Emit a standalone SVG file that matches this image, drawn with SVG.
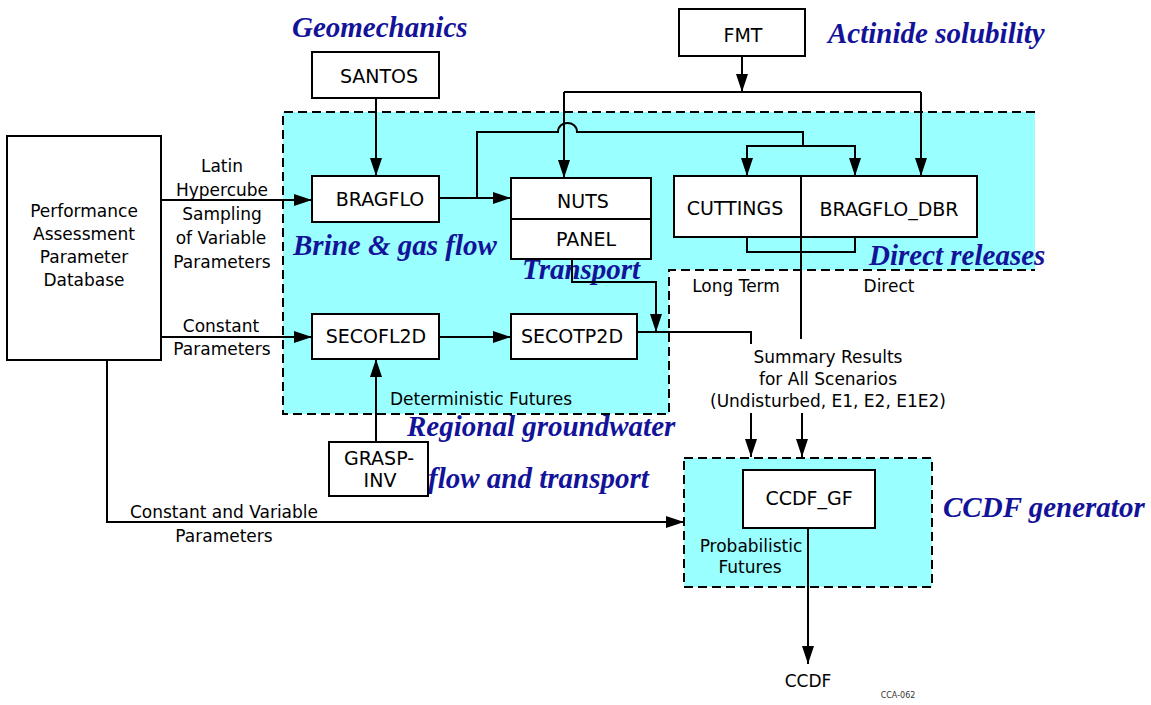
<svg xmlns="http://www.w3.org/2000/svg" width="1151" height="705" viewBox="0 0 1151 705">
<defs>
<marker id="ah" markerUnits="userSpaceOnUse" markerWidth="18" markerHeight="12" refX="18" refY="6" orient="auto">
<path d="M0,0 L18,6 L0,12 Z" fill="#000"/>
</marker>
<style>
.box{fill:#fff;stroke:#000;stroke-width:2}
.dash{fill:none;stroke:#000;stroke-width:2;stroke-dasharray:9,5}
.c{fill:none;stroke:#000;stroke-width:2}
.a{marker-end:url(#ah)}
.t{font-family:"DejaVu Sans",sans-serif;font-size:17px;fill:#000;text-anchor:middle}
.bt{font-family:"DejaVu Sans",sans-serif;font-size:19px;fill:#000;text-anchor:middle}
.lab{font-family:"Liberation Serif","Times New Roman",serif;font-size:29px;font-weight:bold;font-style:italic;fill:#13139a}
</style>
</defs>
<rect width="1151" height="705" fill="#fff"/>
<g id="regions">
<path d="M283,112 H1035 V270 H669 V414 H283 Z" fill="#99ffff"/>
<path class="dash" d="M1035,112 H283 V414 H669 V270 H1035"/>
<rect x="684" y="458" width="248" height="129" fill="#99ffff" class="dash" style="fill:#99ffff"/>
</g>
<g id="labels">
<text class="lab" x="292" y="37">Geomechanics</text>
<text class="lab" x="828" y="43">Actinide solubility</text>
<text class="lab" x="293" y="255">Brine &amp; gas flow</text>
<text class="lab" x="522" y="279">Transport</text>
<text class="lab" x="869" y="265">Direct releases</text>
<text class="lab" x="407" y="436">Regional groundwater</text>
<text class="lab" x="428" y="488">flow and transport</text>
<text class="lab" x="943" y="517">CCDF generator</text>
<text class="t" x="481" y="405">Deterministic Futures</text>
<text class="t" x="736" y="292">Long Term</text>
<text class="t" x="889" y="292">Direct</text>
<text class="t" x="828" y="363">Summary Results</text>
<text class="t" x="828" y="385">for All Scenarios</text>
<text class="t" x="828" y="407">(Undisturbed, E1, E2, E1E2)</text>
<text class="t" x="751" y="552">Probabilistic</text>
<text class="t" x="750" y="573">Futures</text>
<text class="t" x="808" y="687">CCDF</text>
<text x="898" y="698" style="font-family:'DejaVu Sans',sans-serif;font-size:8px;fill:#333;text-anchor:middle">CCA-062</text>
<text class="t" x="222" y="172">Latin</text>
<text class="t" x="222" y="196">Hypercube</text>
<text class="t" x="222" y="220">Sampling</text>
<text class="t" x="221" y="244">of Variable</text>
<text class="t" x="222" y="268">Parameters</text>
<text class="t" x="221" y="332">Constant</text>
<text class="t" x="222" y="355">Parameters</text>
<text class="t" x="224" y="518">Constant and Variable</text>
<text class="t" x="224" y="542">Parameters</text>
</g>
<g id="connectors">
<path class="c a" d="M161,200 H312"/>
<path class="c a" d="M161,337 H312"/>
<path class="c a" d="M376,98 V176"/>
<path class="c a" d="M439,198 H511"/>
<path class="c" d="M477,198 V132 H558 C558,120 577,120 577,132 H803 V146"/>
<path class="c a" d="M803,146 H747 V176"/>
<path class="c a" d="M803,146 H855 V176"/>
<path class="c a" d="M742,56 V92"/>
<path class="c" d="M564,92 H921"/>
<path class="c a" d="M564,92 V178"/>
<path class="c a" d="M921,92 V176"/>
<path class="c a" d="M572,259 V282 H656 V332"/>
<path class="c" d="M637,332 H751 V344"/>
<path class="c a" d="M439,337 H511"/>
<path class="c a" d="M376,442 V359"/>
<path class="c" d="M801,237 V339"/>
<path class="c" d="M747,237 V252 H855 V237"/>
<path class="c a" d="M751,413 V457"/>
<path class="c a" d="M802,413 V457"/>
<path class="c a" d="M107,360 V522 H684"/>
<path class="c a" d="M808,528 V664"/>
</g>
<g id="db"><rect class="box" x="7" y="136" width="154" height="224"/>
<text class="t" x="84" y="217">Performance</text><text class="t" x="84" y="240">Assessment</text><text class="t" x="84" y="263">Parameter</text><text class="t" x="84" y="286">Database</text></g>
<g id="santos"><rect class="box" x="312" y="52" width="127" height="46"/><text class="bt" x="379" y="83">SANTOS</text></g>
<g id="fmt"><rect class="box" x="679" y="9" width="126" height="47"/><text class="bt" x="743" y="42">FMT</text></g>
<g id="bragflo"><rect class="box" x="312" y="176" width="127" height="46"/><text class="bt" x="380" y="206">BRAGFLO</text></g>
<g id="nuts-panel"><rect class="box" x="511" y="178" width="140" height="81"/><path class="c" d="M511,219 H651"/>
<text class="bt" x="583" y="208">NUTS</text><text class="bt" x="586" y="246">PANEL</text></g>
<g id="secofl2d"><rect class="box" x="312" y="314" width="127" height="45"/><text class="bt" x="376" y="343">SECOFL2D</text></g>
<g id="secotp2d"><rect class="box" x="511" y="314" width="126" height="45"/><text class="bt" x="572" y="343">SECOTP2D</text></g>
<g id="cuttings-dbr"><rect class="box" x="674" y="176" width="303" height="61"/><path class="c" d="M801,176 V237"/>
<text class="bt" x="735" y="215">CUTTINGS</text><text class="bt" x="889" y="216">BRAGFLO_DBR</text></g>
<g id="grasp"><rect class="box" x="329" y="442" width="99" height="54"/><text class="bt" x="379" y="465">GRASP-</text><text class="bt" x="380" y="487">INV</text></g>
<g id="ccdfgf"><rect class="box" x="743" y="470" width="132" height="58"/><text class="bt" x="809" y="505">CCDF_GF</text></g>
</svg>
